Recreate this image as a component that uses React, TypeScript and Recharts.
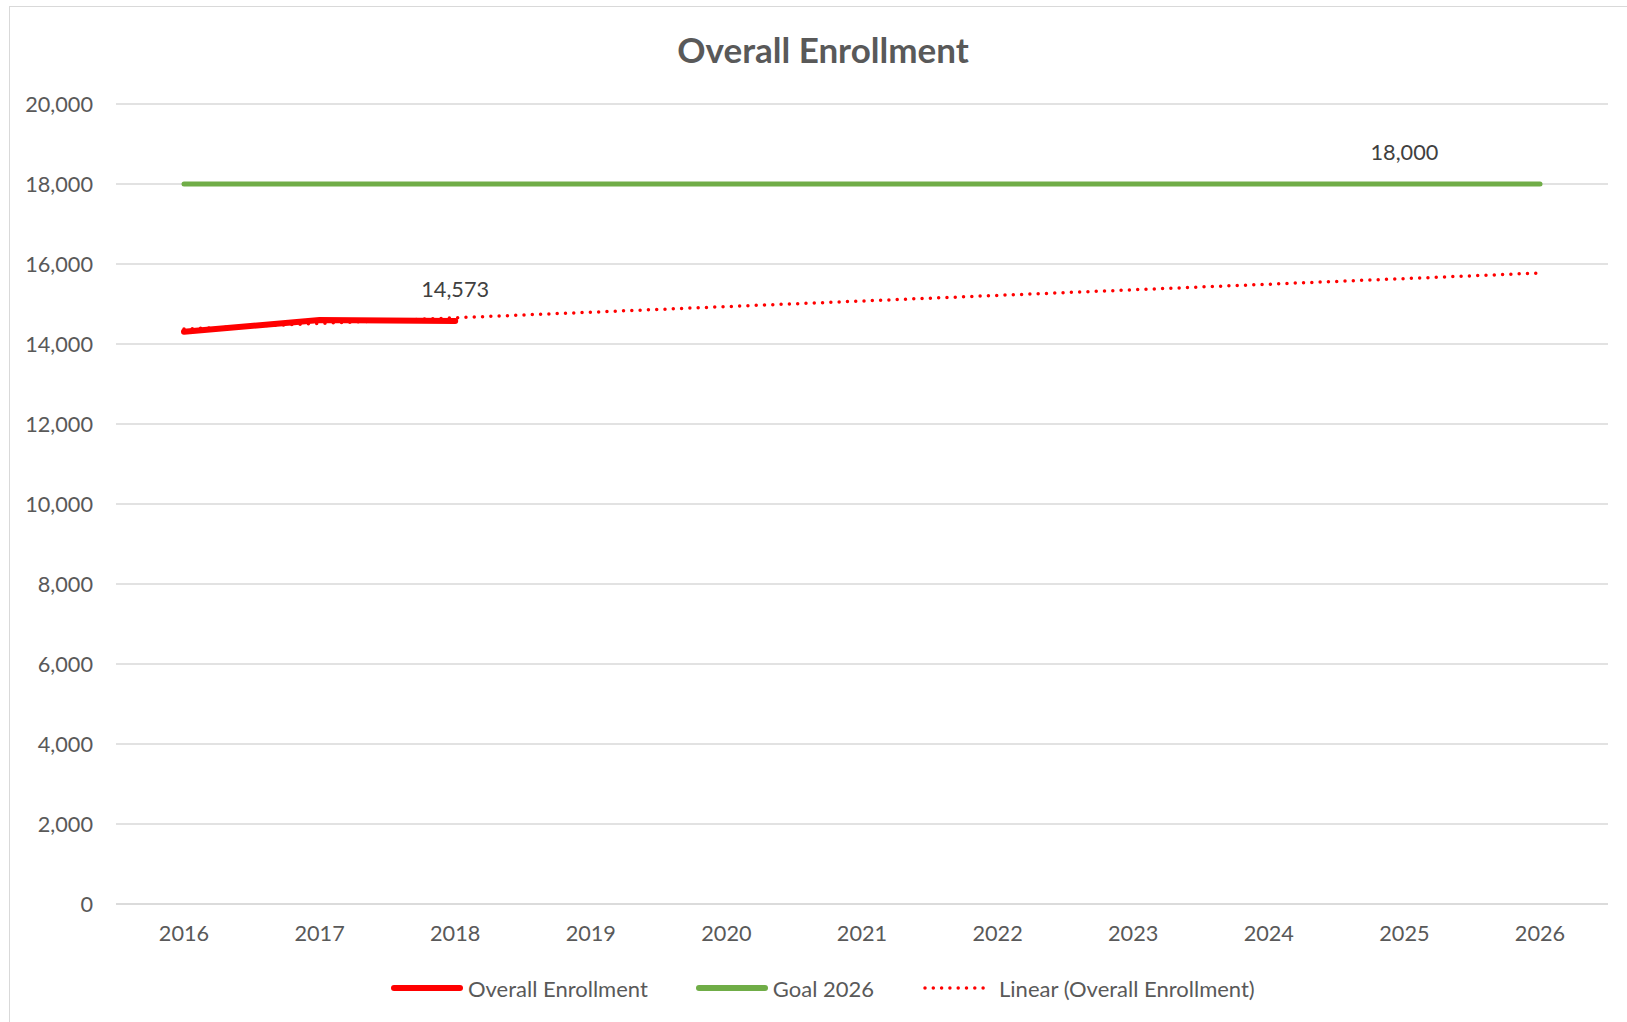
import React from 'react';
import { LineChart, Line, XAxis, YAxis, CartesianGrid } from 'recharts';

const years = ['2016', '2017', '2018', '2019', '2020', '2021', '2022', '2023', '2024', '2025', '2026'];
const enrollment = [14307, 14600, 14573, null, null, null, null, null, null, null, null];
const goal = [18000, 18000, 18000, 18000, 18000, 18000, 18000, 18000, 18000, 18000, 18000];
// trendline ends
const trend = [14375, null, null, null, null, null, null, null, null, null, 15775];
const yTicks = [0, 2000, 4000, 6000, 8000, 10000, 12000, 14000, 16000, 18000, 20000];

const enrollmentLabelAt = '2018';
const goalLabelAt = '2025';

const data = years.map((year, i) => ({
  year,
  enrollment: enrollment[i],
  goal: goal[i],
  trend: trend[i],
}));

const FONT = 'Lato, "Open Sans", sans-serif';
const fmt = (v: number) => v.toLocaleString('en-US');

const pointLabel = (showAt: string) => (props: any) => {
  const { x, y, index, value } = props;
  if (years[index] !== showAt || value == null) return null;
  return (
    <text x={x} y={y - 32} textAnchor="middle" dominantBaseline="central" fontSize={21.7} fill="#404040" fontFamily={FONT}>
      {fmt(value)}
    </text>
  );
};

const LegendItem = ({ color, dotted, label }: { color: string; dotted?: boolean; label: string }) => (
  <div style={{ display: 'flex', alignItems: 'center' }}>
    <svg width={72} height={10}>
      <line
        x1={3}
        y1={5}
        x2={69}
        y2={5}
        stroke={color}
        strokeWidth={dotted ? 3.5 : 6}
        strokeLinecap="round"
        strokeDasharray={dotted ? '0 8.3' : undefined}
      />
    </svg>
    <span style={{ marginLeft: 5 }}>{label}</span>
  </div>
);

export default function App() {
  return (
    <div
      style={{
        position: 'absolute',
        left: 9,
        top: 6,
        width: 1640,
        height: 1040,
        borderLeft: '1px solid #d9d9d9',
        borderTop: '1px solid #d9d9d9',
        fontFamily: FONT,
        background: '#fff',
      }}
    >
      <div
        style={{
          position: 'absolute',
          left: 0,
          width: 1626,
          top: 20,
          textAlign: 'center',
          fontSize: 35,
          fontWeight: 700,
          color: '#595959',
          lineHeight: '44px',
        }}
      >
        Overall Enrollment
      </div>
      <LineChart width={1609} height={1008} data={data} margin={{ top: 97, right: 11, bottom: 81, left: 10 }}>
        <CartesianGrid vertical={false} stroke="#d9d9d9" strokeWidth={1.4} />
        <XAxis
          dataKey="year"
          padding={{ left: 68, right: 68 }}
          axisLine={{ stroke: '#d9d9d9', strokeWidth: 1.4 }}
          tickLine={false}
          tickSize={0}
          tickMargin={22}
          tick={{ fill: '#595959', fontSize: 21.7, fontFamily: FONT }}
          height={30}
        />
        <YAxis
          domain={[0, 20000]}
          ticks={yTicks}
          tickFormatter={fmt}
          axisLine={false}
          tickLine={false}
          tickSize={0}
          tickMargin={23}
          width={96}
          tick={{ fill: '#595959', fontSize: 21.7, fontFamily: FONT }}
        />
        <Line
          dataKey="goal"
          stroke="#70ad47"
          strokeWidth={5}
          strokeLinecap="round"
          dot={false}
          activeDot={false}
          label={pointLabel(goalLabelAt)}
          isAnimationActive={false}
        />
        <Line
          dataKey="enrollment"
          stroke="#ff0000"
          strokeWidth={6}
          strokeLinecap="round"
          strokeLinejoin="round"
          dot={false}
          activeDot={false}
          label={pointLabel(enrollmentLabelAt)}
          isAnimationActive={false}
        />
        <Line
          dataKey="trend"
          stroke="#ff0000"
          strokeWidth={3.5}
          strokeLinecap="round"
          strokeDasharray="0 8.3"
          connectNulls
          dot={false}
          activeDot={false}
          isAnimationActive={false}
        />
      </LineChart>
      <div
        style={{
          position: 'absolute',
          left: 381,
          top: 968,
          height: 26,
          display: 'flex',
          alignItems: 'center',
          gap: 48,
          fontSize: 22,
          color: '#595959',
        }}
      >
        <LegendItem color="#ff0000" label="Overall Enrollment" />
        <LegendItem color="#70ad47" label="Goal 2026" />
        <LegendItem color="#ff0000" dotted label="Linear (Overall Enrollment)" />
      </div>
    </div>
  );
}
